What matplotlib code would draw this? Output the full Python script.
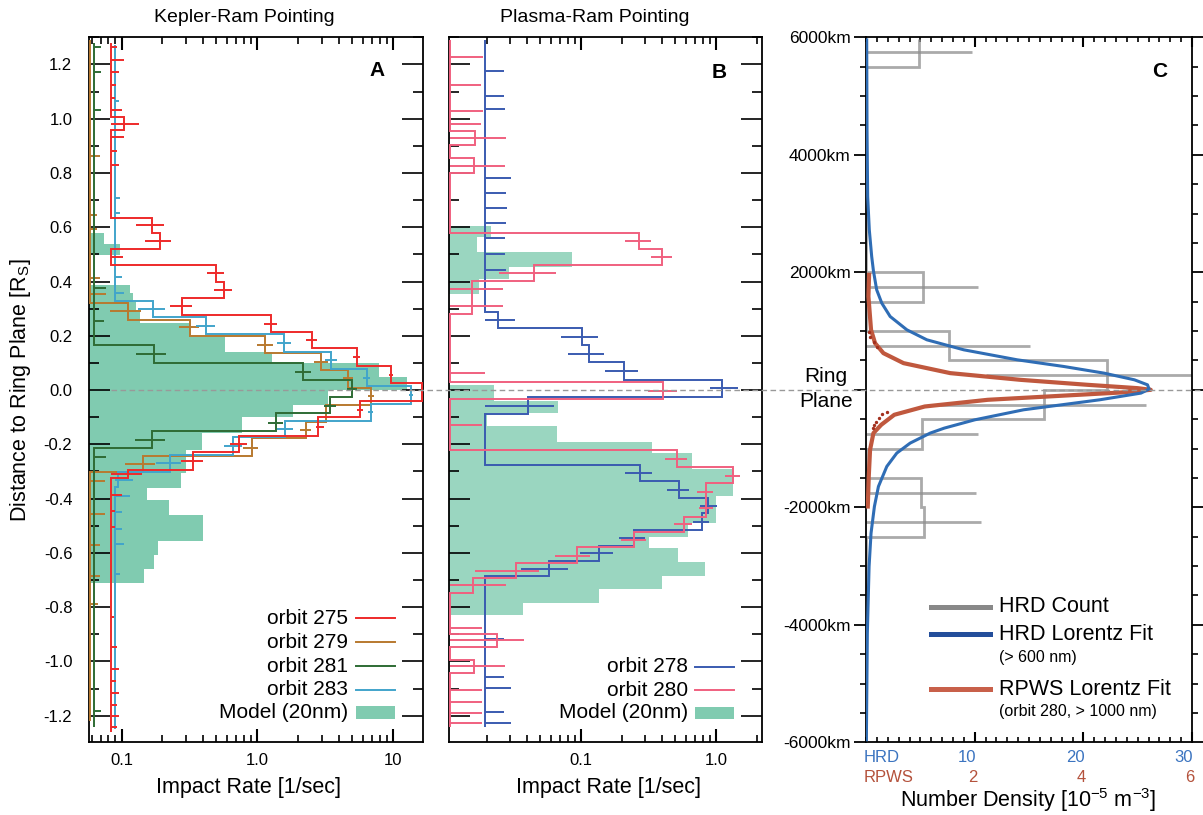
import numpy as np
import matplotlib
matplotlib.use("Agg")
import matplotlib.pyplot as plt
from matplotlib.ticker import FixedLocator, FixedFormatter, NullFormatter, MultipleLocator
from matplotlib.transforms import blended_transform_factory
from matplotlib.lines import Line2D
from matplotlib.patches import Rectangle

plt.rcParams['font.family'] = ['Liberation Sans', 'DejaVu Sans']
plt.rcParams['axes.linewidth'] = 1.3

# ---------------- Panel A: Kepler-Ram pointing (rates in 1/sec, y in R_S) ----------------
# step edges run from top to bottom, one rate per bin
base275 = 0.083
edges275 = [1.28, 1.005, 0.958, 0.635, 0.580, 0.520, 0.461, 0.399, 0.340, 0.276, 0.215,
            0.1535, 0.088, 0.025, -0.0405, -0.1007, -0.168, -0.2297, -0.2948, -0.323, -1.26]
rate275 = [base275, 0.1035, base275, 0.167, 0.191, base275, 0.495, 0.568, 0.277, 1.26,
           2.52, 5.43, 9.68, 16.3, 5.74, 2.83, 0.736, 0.336, 0.111, base275]
erry275 = [1.263, 1.216, 1.172, 1.126, 1.078, 1.031, 0.981, 0.931, 0.881, 0.828,
           0.607, 0.549, 0.491, 0.43, 0.37, 0.31, 0.245, 0.185, 0.121, 0.056,
           -0.072, -0.135, -0.20, -0.262, -0.31,
           -0.386, -0.446, -0.505, -0.835, -0.946, -1.028, -1.073, -1.116, -1.159, -1.201, -1.242]
errlo275 = [base275] * 10 + [0.1285, 0.150, base275, 0.423, 0.481, 0.226, 1.127, 2.29, 5.13, 9.3,
                             5.43, 2.71, 0.635, 0.276, base275] + [base275] * 11
errhi275 = [0.0918, 0.105, 0.095, 0.0914, 0.0898, 0.100, 0.134, 0.104, 0.092, 0.096,
            0.2056, 0.233, 0.103, 0.570, 0.647, 0.331, 1.41, 2.75, 5.74, 10.1,
            6.0, 3.1, 0.835, 0.399, 0.142,
            0.101, 0.090, 0.090, 0.088, 0.093, 0.096, 0.091, 0.095, 0.092, 0.096, 0.093]

base279 = 0.058
edges279 = [1.29, 0.322, 0.260, 0.199, 0.135, 0.074, 0.0074, -0.054, -0.117, -0.178, -0.242, -0.303, -1.22]
rate279 = [base279, 0.111, 0.318, 1.14, 2.96, 4.68, 6.89, 3.21, 2.29, 0.914, 0.143, base279]
erry279 = [0.863, 0.647, 0.592, 0.414, 0.353, 0.291, 0.231, 0.167, 0.104, 0.043, -0.023,
           -0.086, -0.147, -0.213, -0.274, -0.335, -0.456, -0.572, -0.684, -0.790]
errlo279 = [base279] * 5 + [0.0815, 0.264, 0.99, 2.64, 4.33, 6.6, 2.9, 2.07, 0.79, 0.106] + [base279] * 5
errhi279 = [0.0688, 0.0657, 0.0657, 0.0696, 0.0762, 0.140, 0.372, 1.30, 3.35, 5.11, 7.3,
            3.4, 2.5, 1.02, 0.177, 0.076, 0.0758, 0.0696, 0.0696, 0.0665]

base281 = 0.0625
edges281 = [1.28, 0.1646, 0.1007, 0.037, -0.0246, -0.086, -0.150, -0.214, -1.24]
rate281 = [base281, 0.1725, 2.19, 4.99, 3.44, 1.37, 0.1667, base281]
erry281 = [1.263, 1.172, 1.031, 0.378, 0.255, 0.1326, 0.0675, 0.005, -0.058, -0.12, -0.183, -0.246, -1.183]
errlo281 = [base281] * 5 + [0.128, 1.90, 4.59, 3.11, 1.21, 0.126, base281, base281]
errhi281 = [0.070, 0.0703, 0.0703, 0.0771, 0.0736, 0.214, 2.48, 5.45, 3.82, 1.56, 0.21, 0.0765, 0.0708]

base283 = 0.089
edges283 = [1.27, 0.329, 0.268, 0.206, 0.140, 0.076, 0.0147, -0.050, -0.113, -0.174, -0.2395,
            -0.301, -0.356, -1.25]
rate283 = [base283, 0.170, 0.416, 1.567, 3.51, 6.44, 13.6, 6.92, 1.60, 0.665, 0.229, 0.0934, base283]
erry283 = [1.066, 0.709, 0.652, 0.417, 0.357, 0.297, 0.236, 0.172, 0.1105, 0.045, -0.0197,
           -0.080, -0.144, -0.206, -0.268, -0.332, -0.392, -0.451, -0.511, -0.566, -0.677]
errlo283 = [base283] * 5 + [0.132, 0.352, 1.39, 3.16, 6.08, 13.2, 6.6, 1.39, 0.567, 0.180, 0.090] + [base283] * 5
errhi283 = [0.095, 0.0966, 0.0966, 0.1005, 0.105, 0.210, 0.486, 1.77, 3.86, 6.81, 14.0,
            7.2, 1.83, 0.774, 0.276, 0.121, 0.116, 0.1005, 0.1005, 0.105, 0.0966]

# model (20nm) rate profile for panel A
model_a_edges = [0.58, 0.537, 0.497, 0.387, 0.356, 0.325, 0.289, 0.246, 0.194, 0.141, 0.098, 0.049,
                 0.0, -0.055, -0.098, -0.157, -0.219, -0.305, -0.362, -0.405, -0.461, -0.555,
                 -0.608, -0.661, -0.710]
model_a_rate = [0.074, 0.0967, 0.0, 0.1146, 0.121, 0.1285, 0.136, 0.318, 0.577, 1.28, 7.94, 12.7,
                3.35, 1.83, 0.767, 0.393, 0.296, 0.272, 0.154, 0.222, 0.40, 0.184, 0.173, 0.146]

# ---------------- Panel B: Plasma-Ram pointing ----------------
base278 = 0.0195
edges278 = [1.29, 0.2886, 0.227, 0.166, 0.102, 0.037, -0.0246, -0.0896, -0.276, -0.335, -0.399,
            -0.454, -0.516, -0.574, -0.630, -0.685, -1.24]
rate278 = [base278, 0.0245, 0.1022, 0.1146, 0.207, 1.114, 0.0403, base278, 0.275, 0.532, 0.877,
           0.787, 0.247, 0.137, 0.0582, base278]
erry278 = [1.177, 1.083, 1.036, 0.782, 0.727, 0.672, 0.616, 0.559, 0.50, 0.442, 0.258, 0.196,
           0.1326, 0.070, 0.006, -0.058, -0.305, -0.368, -0.427, -0.485, -0.544, -0.602, -0.658,
           -0.916, -1.056, -1.099, -1.185, -1.226]
errlo278 = [base278] * 11 + [0.0711, 0.0797, 0.150, 0.90, base278, 0.212, 0.432, 0.76, 0.67,
                             0.191, 0.098, 0.036] + [base278] * 5
errhi278 = [0.027, 0.027, 0.0273, 0.0303, 0.0277, 0.0282, 0.0277, 0.0273, 0.0273, 0.0277, 0.0325,
            0.133, 0.148, 0.266, 1.45, 0.0634, 0.337, 0.635, 1.01, 0.89, 0.30, 0.173, 0.0797,
            0.027, 0.027, 0.0303, 0.027, 0.0303]

base280 = 0.0107
edges280 = [1.29, 0.955, 0.905, 0.854, 0.801, 0.580, 0.5195, 0.4606, 0.4028, 0.279, 0.0307, -0.034,
            -0.221, -0.285, -0.344, -0.467, -0.524, -0.577, -0.636, -0.691, -0.747, -0.900, -0.948,
            -0.995, -1.042, -1.24]
rate280 = [base280, 0.0163, base280, 0.0161, base280, 0.269, 0.400, 0.0451, 0.0156, base280, 0.407,
           base280, 0.512, 1.33, 0.839, 0.579, 0.247, 0.093, 0.033, 0.016, base280, 0.024, base280,
           0.0161, base280]
erry280 = [1.226, 1.126, 1.029, 0.980, 0.930, 0.827, 0.550, 0.491, 0.432, 0.373, 0.311, 0.064,
           -0.0025, -0.127, -0.253, -0.317, -0.376, -0.436, -0.495, -0.553, -0.611, -0.666, -0.718,
           -0.876, -0.921, -1.017, -1.105, -1.148, -1.189, -1.228]
errlo280 = [base280] * 6 + [0.212, 0.328, 0.0248, base280, base280, base280, 0.312, base280, 0.419,
                            1.167, 0.719, 0.752, 0.491, 0.198, 0.0642, 0.0164] + [base280] * 8
errhi280 = [0.0187, 0.0182, 0.0187, 0.0182, 0.0277, 0.0275, 0.328, 0.470, 0.0653, 0.0266, 0.0266,
            0.0195, 0.512, 0.0186, 0.607, 1.51, 0.955, 0.946, 0.667, 0.301, 0.117, 0.0491, 0.0277,
            0.0186, 0.0378, 0.0275, 0.0186, 0.0186, 0.0186, 0.0186]

model_b_edges = [0.604, 0.5625, 0.51, 0.454, 0.411, 0.354, 0.018, -0.039, -0.086, -0.1326, -0.190,
                 -0.233, -0.292, -0.391, -0.489, -0.540, -0.583, -0.635, -0.685, -0.734, -0.784, -0.829]
model_b_rate = [0.0216, 0.0171, 0.0862, 0.0293, 0.0176, 0.0, 0.0227, 0.0671, 0.0201, 0.066, 0.334,
                0.66, 1.33, 1.0, 0.617, 0.319, 0.524, 0.83, 0.396, 0.136, 0.037]

# ---------------- Panel C: number density vs height (km) ----------------
hrd_edges = [5970, 5500, 2000, 1500, 1000, 500, 0, -500, -1000, -1500, -2000, -2500, -6000]
hrd_count = [4.9, 0, 5.2, 0, 7.6, 22.2, 16.4, 5.14, 0, 5.08, 5.36, 0]
hrd_err_y = [5750, 1750, 750, 250, -250, -750, -1750, -2250]
hrd_err_lo = [0, 0, 0, 11.05, 6.83, 0, 0, 0]
hrd_err_hi = [9.76, 10.3, 15.1, 30.6, 25.76, 10.3, 10.1, 10.6]

hrd_fit_km = [5957, 4425, 3290, 2723, 2269, 2025, 1702, 1475, 1248, 1021, 851, 681, 511, 397, 284,
              170, 85, 12, -56, -170, -340, -511, -652, -737, -907, -1077, -1305, -1646, -1986,
              -2440, -3007, -4141, -5957]
hrd_fit_val = [0.06, 0.09, 0.15, 0.3, 0.52, 0.68, 0.98, 1.45, 2.22, 3.76, 5.6, 8.99, 13.9, 18.2, 21.9,
               24.7, 25.9, 26.05, 25.3, 21.5, 14.5, 10.0, 7.2, 5.9, 4.06, 2.83, 1.91, 1.14, 0.77,
               0.46, 0.28, 0.12, 0.03]

rpws_fit_km = [1957, 1589, 1021, 794, 624, 454, 284, 170, 85, 28, 0, -45, -114, -170, -284, -425,
               -595, -737, -1021, -1475, -1986]
rpws_fit_val = [0.056, 0.044, 0.092, 0.166, 0.32, 0.69, 1.55, 2.84, 4.08, 5.0, 5.24, 4.7, 3.34, 2.24,
                1.08, 0.52, 0.28, 0.136, 0.074, 0.05, 0.032]
# scattered RPWS samples off the fit line
rpws_dot_km = [990, 905, 820, 735, -380, -420, -480, -540, -600, -650]
rpws_dot_val = [0.05, 0.08, 0.14, 0.2, 0.38, 0.3, 0.24, 0.19, 0.15, 0.12]
hrd_per_rpws = 5.0  # 10 HRD units line up with 2 RPWS units

# colours
c275, c279, c281, c283 = '#ee2a2a', '#b8792f', '#2e6b34', '#41a4cb'
c278, c280 = '#3a5bb0', '#f0607f'
model_a_col, model_b_col = '#80cbb0', '#9ad6c0'
hrd_blue, rpws_red = '#2f6db5', '#c0583e'


def draw_orbit(ax, edges, rate, ey, elo, ehi, color):
    ax.stairs(rate[::-1], edges[::-1], orientation='horizontal', baseline=None,
              color=color, lw=1.4, zorder=3)
    ax.hlines(ey, elo, ehi, color=color, lw=1.4, zorder=3)


def draw_model(ax, edges, rate, color):
    edges = np.array(edges)
    rate = np.array(rate)
    top, bot = edges[:-1], edges[1:]
    keep = rate > 0
    ax.barh(((top + bot) / 2)[keep], rate[keep] - 1e-3, height=(top - bot)[keep], left=1e-3,
            color=color, lw=0, zorder=1)


def style_log_panel(ax, xmin, xmax, majors, major_labels, minors):
    ax.set_xscale('log')
    ax.set_xlim(xmin, xmax)
    ax.set_ylim(-1.298, 1.30)
    ax.xaxis.set_major_locator(FixedLocator(majors))
    ax.xaxis.set_major_formatter(FixedFormatter(major_labels))
    ax.xaxis.set_minor_locator(FixedLocator(minors))
    ax.xaxis.set_minor_formatter(NullFormatter())
    yt = [-1.2, -1.0, -0.8, -0.6, -0.4, -0.2, 0.0, 0.2, 0.4, 0.6, 0.8, 1.0, 1.2]
    ax.yaxis.set_major_locator(FixedLocator(yt))
    ax.yaxis.set_major_formatter(FixedFormatter(['%.1f' % v for v in yt]))
    ax.yaxis.set_minor_locator(MultipleLocator(0.1))
    ax.tick_params(axis='y', which='major', direction='in', left=True, right=True,
                   length=15, width=1.2, labelsize=12, pad=12)
    ax.tick_params(axis='y', which='minor', direction='in', left=True, right=True,
                   length=7.5, width=1.2)
    ax.tick_params(axis='x', which='major', direction='in', top=True, bottom=True,
                   length=9.5, width=1.5, labelsize=12, pad=8)
    ax.tick_params(axis='x', which='minor', direction='in', top=True, bottom=True,
                   length=4.8, width=1.2)


fig = plt.figure(figsize=(12.03, 8.15), dpi=100)
axA = fig.add_axes([0.0740, 0.0892, 0.2776, 0.8650])
axB = fig.add_axes([0.3735, 0.0892, 0.2597, 0.8650])
axC = fig.add_axes([0.7199, 0.0892, 0.2710, 0.8650])

# ---- Panel A ----
draw_model(axA, model_a_edges, model_a_rate, model_a_col)
draw_orbit(axA, edges279, rate279, erry279, errlo279, errhi279, c279)
draw_orbit(axA, edges281, rate281, erry281, errlo281, errhi281, c281)
draw_orbit(axA, edges283, rate283, erry283, errlo283, errhi283, c283)
draw_orbit(axA, edges275, rate275, erry275, errlo275, errhi275, c275)
minorsA = [0.06, 0.07, 0.08, 0.09, 0.2, 0.3, 0.4, 0.5, 0.6, 0.7, 0.8, 0.9,
           2, 3, 4, 5, 6, 7, 8, 9]
style_log_panel(axA, 0.0575, 16.7, [0.1, 1.0, 10.0], ['0.1', '1.0', '10'], minorsA)
axA.text(0.862, 0.953, 'A', transform=axA.transAxes, ha='center', va='center',
         fontsize=15, fontweight='bold', family=['Liberation Sans Narrow', 'Liberation Sans'])

leg_a = [('orbit 275', c275), ('orbit 279', c279), ('orbit 281', c281), ('orbit 283', c283)]
leg_a_y = [0.176, 0.142, 0.108, 0.0746]
for (lab, col), yy in zip(leg_a, leg_a_y):
    axA.text(0.776, yy, lab, transform=axA.transAxes, ha='right', va='center', fontsize=15)
    axA.plot([0.799, 0.916], [yy, yy], transform=axA.transAxes, color=col, lw=1.4)
axA.text(0.776, 0.042, 'Model (20nm)', transform=axA.transAxes, ha='right', va='center', fontsize=15)
axA.add_patch(Rectangle((0.799, 0.033), 0.117, 0.018, transform=axA.transAxes,
                        color=model_a_col, lw=0))

# ---- Panel B ----
draw_model(axB, model_b_edges, model_b_rate, model_b_col)
draw_orbit(axB, edges278, rate278, erry278, errlo278, errhi278, c278)
draw_orbit(axB, edges280, rate280, erry280, errlo280, errhi280, c280)
minorsB = [0.02, 0.03, 0.04, 0.05, 0.06, 0.07, 0.08, 0.09,
           0.2, 0.3, 0.4, 0.5, 0.6, 0.7, 0.8, 0.9, 2.0]
style_log_panel(axB, 0.0106, 2.18, [0.1, 1.0], ['0.1', '1.0'], minorsB)
axB.tick_params(axis='y', which='both', labelleft=False)
axB.text(0.864, 0.950, 'B', transform=axB.transAxes, ha='center', va='center',
         fontsize=15, fontweight='bold', family=['Liberation Sans Narrow', 'Liberation Sans'])

leg_b = [('orbit 278', c278), ('orbit 280', c280)]
leg_b_y = [0.107, 0.074]
for (lab, col), yy in zip(leg_b, leg_b_y):
    axB.text(0.763, yy, lab, transform=axB.transAxes, ha='right', va='center', fontsize=15)
    axB.plot([0.785, 0.910], [yy, yy], transform=axB.transAxes, color=col, lw=1.4)
axB.text(0.763, 0.0416, 'Model (20nm)', transform=axB.transAxes, ha='right', va='center', fontsize=15)
axB.add_patch(Rectangle((0.785, 0.0326), 0.125, 0.018, transform=axB.transAxes,
                        color=model_a_col, lw=0))

# ---- Panel C ----
axC.stairs(hrd_count[::-1], hrd_edges[::-1], orientation='horizontal', baseline=None,
           color='#8e8e8e', alpha=0.75, lw=2.0, zorder=2)
axC.hlines(hrd_err_y, hrd_err_lo, hrd_err_hi, color='#8e8e8e', alpha=0.75, lw=2.0, zorder=2)
axC.plot(np.array(rpws_fit_val) * hrd_per_rpws, rpws_fit_km, color=rpws_red, lw=3.0, zorder=3)
axC.scatter(np.array(rpws_dot_val) * hrd_per_rpws, rpws_dot_km, s=2, color='#a3301e', zorder=3)
axC.plot(hrd_fit_val, hrd_fit_km, color=hrd_blue, lw=2.2, zorder=4)
axC.set_xlim(0, 30)
axC.set_ylim(-6000, 6000)
yC = [-6000, -4000, -2000, 0, 2000, 4000, 6000]
axC.yaxis.set_major_locator(FixedLocator(yC))
axC.yaxis.set_major_formatter(FixedFormatter(['-6000km', '-4000km', '-2000km', '',
                                              '2000km', '4000km', '6000km']))
axC.yaxis.set_minor_locator(MultipleLocator(500))
axC.xaxis.set_major_locator(FixedLocator([10, 20, 30]))
axC.xaxis.set_minor_locator(MultipleLocator(1))
axC.tick_params(axis='y', which='major', direction='out', left=True, right=True,
                length=9, width=1.3, labelsize=12.5, pad=2)
axC.tick_params(axis='y', which='minor', direction='out', left=True, right=True,
                length=4, width=1.2)
axC.tick_params(axis='x', which='major', direction='in', top=True, bottom=True,
                length=7, width=1.5, labelbottom=False)
axC.tick_params(axis='x', which='minor', direction='in', top=True, bottom=True,
                length=3.5, width=1.2)
axC.text(0.900, 0.951, 'C', transform=axC.transAxes, ha='center', va='center',
         fontsize=15, fontweight='bold', family=['Liberation Sans Narrow', 'Liberation Sans'])

# two-colour x tick labels for panel C
trC = blended_transform_factory(axC.transData, axC.transAxes)
axC.text(-0.25, -0.021, 'HRD', transform=trC, ha='left', va='center', fontsize=12, color='#3b74c0')
axC.text(-0.25, -0.050, 'RPWS', transform=trC, ha='left', va='center', fontsize=12, color='#b4523c')
for v in [10, 20, 30]:
    axC.text(v + 0.1, -0.021, str(v), transform=trC, ha='right', va='center', fontsize=12,
             color='#3b74c0')
    axC.text(v - 0.2, -0.050, '%d' % (v / hrd_per_rpws), transform=trC, ha='center', va='center',
             fontsize=12, color='#b4523c')

# legend for panel C
leg_c_y = [0.192, 0.153, 0.0756]
leg_c = [('HRD Count', '#888888'), ('HRD Lorentz Fit', '#234e9b'), ('RPWS Lorentz Fit', '#c8604a')]
for (lab, col), yy in zip(leg_c, leg_c_y):
    axC.plot([0.198, 0.380], [yy, yy], transform=axC.transAxes, color=col, lw=3.6)
    axC.text(0.409, yy, lab, transform=axC.transAxes, ha='left', va='center', fontsize=15.5)
axC.text(0.409, 0.121, '(> 600 nm)', transform=axC.transAxes, ha='left', va='center', fontsize=11.5)
axC.text(0.409, 0.043, '(orbit 280, > 1000 nm)', transform=axC.transAxes, ha='left', va='center',
         fontsize=11.5)

# ring-plane dashed line across all panels
fig.add_artist(Line2D([111 / 1203, 1.0], [0.5217, 0.5217], transform=fig.transFigure,
                      color='#999999', lw=1.0, ls=(0, (4, 2.5)), zorder=5))

# titles and axis labels
fig.text(244 / 1203, 1 - 18 / 815, 'Kepler-Ram Pointing', ha='center', va='center', fontsize=14)
fig.text(595 / 1203, 1 - 18 / 815, 'Plasma-Ram Pointing', ha='center', va='center', fontsize=14)
fig.text(249 / 1203, 1 - 787 / 815, 'Impact Rate [1/sec]', ha='center', va='center', fontsize=15.5)
fig.text(609 / 1203, 1 - 787 / 815, 'Impact Rate [1/sec]', ha='center', va='center', fontsize=15.5)
fig.text(1028 / 1203, 1 - 800 / 815, 'Number Density [10$^{\\mathregular{-5}}$ m$^{\\mathregular{-3}}$]',
         ha='center', va='center', fontsize=15.5)
fig.text(21 / 1203, 0.5217, 'Distance to Ring Plane [R$_{\\mathregular{S}}$]', rotation=90,
         ha='center', va='center', fontsize=15.5)
fig.text(826 / 1203, 1 - 377 / 815, 'Ring', ha='center', va='center', fontsize=15)
fig.text(826 / 1203, 1 - 401 / 815, 'Plane', ha='center', va='center', fontsize=15)

fig.savefig('out.png', dpi=100)
